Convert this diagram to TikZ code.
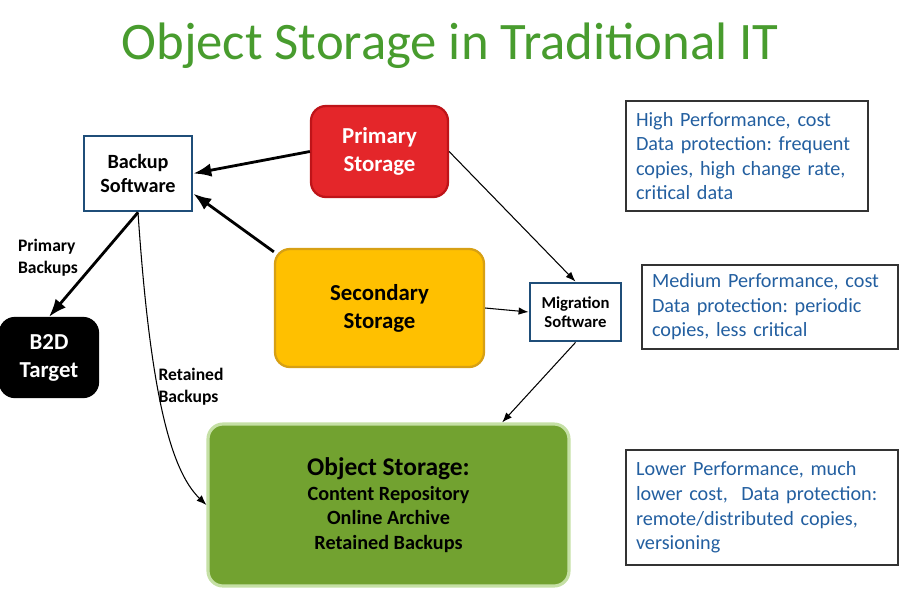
\documentclass[tikz,border=0pt]{standalone}
\usepackage{fontspec}
\setmainfont{Carlito}
\frenchspacing
\usetikzlibrary{arrows.meta}
\definecolor{titlegreen}{RGB}{72,156,46}
\definecolor{swblue}{RGB}{31,78,121}
\definecolor{noteblue}{RGB}{35,95,160}
\definecolor{prired}{RGB}{228,38,42}
\definecolor{prirededge}{RGB}{190,20,25}
\definecolor{secyellow}{RGB}{255,192,0}
\definecolor{secedge}{RGB}{215,160,20}
\definecolor{objgreen}{RGB}{114,162,48}
\definecolor{objedge}{RGB}{197,224,165}

\begin{document}
\begin{tikzpicture}[x=.02cm,y=-.02cm,>=Latex,
  softbox/.style={draw=swblue,line width=1.6pt,fill=white,font=\bfseries,align=center,inner sep=0pt},
  store/.style={rounded corners=8.5pt,line width=1.3pt,align=center,font=\bfseries,inner sep=0pt},
  note/.style={draw=black!80,line width=.8pt,align=left,text=noteblue,inner xsep=.2cm,
    font=\fontsize{11.5}{14}\selectfont},
  heavy/.style={->,line width=1.6pt},
  light/.style={->,line width=.6pt}]
\useasboundingbox (0,0) rectangle (900,600);
\node[text=titlegreen,font=\fontsize{30}{36}\selectfont] (title) at (450,46) {Object Storage in Traditional IT};

% software boxes
\node[softbox,minimum width=2.16cm,minimum height=1.5cm,font=\bfseries\fontsize{11.5}{14}\selectfont] (bsw) at (138,173.5) {Backup\\Software};
\node[softbox,minimum width=1.82cm,minimum height=1.16cm,font=\bfseries\fontsize{9.5}{11}\selectfont] (mig) at (575.5,312) {Migration\\Software};

% storage tiers
\node[store,draw=prirededge,fill=prired,text=white,minimum width=2.74cm,minimum height=1.82cm,
  font=\bfseries\fontsize{13}{16}\selectfont] (pri) at (379.5,151.5) {Primary\\Storage};
\node[store,draw=secedge,fill=secyellow,minimum width=4.18cm,minimum height=2.36cm,
  font=\bfseries\fontsize{13}{16}\selectfont] (sec) at (379.5,308) {Secondary\\Storage};
\node[store,draw=black,fill=black,text=white,minimum width=1.96cm,minimum height=1.58cm,
  font=\bfseries\fontsize{13}{16}\selectfont] (b2d) at (49,357.5) {B2D\\Target};
\node[store,draw=objedge,fill=objgreen,line width=1.8pt,minimum width=7.22cm,minimum height=3.24cm,
  font=\bfseries\fontsize{11.5}{14}\selectfont] (obj) at (388.5,505)
  {{\fontsize{14.5}{17}\selectfont Object Storage:}\\Content Repository\\Online Archive\\Retained Backups};

% notes
\node[note,text width=4.44cm,minimum height=2.2cm] (n1) at (747,156)
  {High Performance, cost\\Data protection: frequent\\copies, high change rate,\\critical data};
\node[note,text width=4.72cm,minimum height=1.68cm] (n2) at (770,307)
  {Medium Performance, cost\\Data protection: periodic\\copies, less critical};
\node[note,text width=5.04cm,minimum height=2.3cm] (n3) at (762,507.5)
  {Lower Performance, much\\lower cost,\ \ Data protection:\\remote/distributed copies,\\versioning};

% edge labels
\node[align=left,font=\bfseries\fontsize{10}{12.5}\selectfont] (lpb) at (48,258) {Primary\\Backups};
\node[align=left,font=\bfseries\fontsize{10}{12.5}\selectfont] (lrb) at (191,387) {Retained\\Backups};

% connectors
\draw[heavy] (pri.west) -- (bsw.east);
\draw[heavy] (sec.152) -- (bsw.-20);
\draw[heavy] (bsw.south) -- (b2d.north);
\draw[light] (bsw.south) .. controls (150,390) and (170,470) .. (obj.west);
\draw[light] (pri.east) -- (mig.north);
\draw[light] (sec.east) -- (mig.west);
\draw[light] (mig.south) -- (obj.36);
\end{tikzpicture}
\end{document}
